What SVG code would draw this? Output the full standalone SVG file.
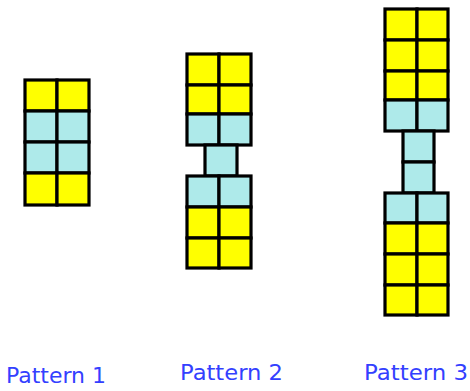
<svg xmlns="http://www.w3.org/2000/svg" width="470" height="391" viewBox="0 0 470 391">
<style>
.y{fill:#ffff00;stroke:#000;stroke-width:3.2}
.c{fill:#aeeaea;stroke:#000;stroke-width:3.2}
.t{font-family:"Comic Sans MS","DejaVu Sans",sans-serif;font-size:22px;fill:#3340ff}
</style>
<rect width="470" height="391" fill="#fff"/>
<g id="pattern1">
<rect class="y" x="25" y="80" width="32" height="31"/><rect class="y" x="57" y="80" width="32" height="31"/>
<rect class="c" x="25" y="111" width="32" height="31"/><rect class="c" x="57" y="111" width="32" height="31"/>
<rect class="c" x="25" y="142" width="32" height="31"/><rect class="c" x="57" y="142" width="32" height="31"/>
<rect class="y" x="25" y="173" width="32" height="32"/><rect class="y" x="57" y="173" width="32" height="32"/>
</g>
<g id="pattern2">
<rect class="y" x="187" y="54" width="32" height="31"/><rect class="y" x="219" y="54" width="32" height="31"/>
<rect class="y" x="187" y="85" width="32" height="29"/><rect class="y" x="219" y="85" width="32" height="29"/>
<rect class="c" x="187" y="114" width="32" height="31"/><rect class="c" x="219" y="114" width="32" height="31"/>
<rect class="c" x="205" y="145" width="32" height="31"/>
<rect class="c" x="187" y="176" width="32" height="31"/><rect class="c" x="219" y="176" width="32" height="31"/>
<rect class="y" x="187" y="207" width="32" height="31"/><rect class="y" x="219" y="207" width="32" height="31"/>
<rect class="y" x="187" y="238" width="32" height="30"/><rect class="y" x="219" y="238" width="32" height="30"/>
</g>
<g id="pattern3">
<rect class="y" x="385" y="9" width="32" height="31"/><rect class="y" x="417" y="9" width="31" height="31"/>
<rect class="y" x="385" y="40" width="32" height="31"/><rect class="y" x="417" y="40" width="31" height="31"/>
<rect class="y" x="385" y="71" width="32" height="29"/><rect class="y" x="417" y="71" width="31" height="29"/>
<rect class="c" x="385" y="100" width="32" height="31"/><rect class="c" x="417" y="100" width="31" height="31"/>
<rect class="c" x="403" y="131" width="31" height="31"/>
<rect class="c" x="403" y="162" width="31" height="31"/>
<rect class="c" x="385" y="193" width="32" height="30"/><rect class="c" x="417" y="193" width="31" height="30"/>
<rect class="y" x="385" y="223" width="32" height="31"/><rect class="y" x="417" y="223" width="31" height="31"/>
<rect class="y" x="385" y="254" width="32" height="31"/><rect class="y" x="417" y="254" width="31" height="31"/>
<rect class="y" x="385" y="285" width="32" height="30"/><rect class="y" x="417" y="285" width="31" height="30"/>
</g>
<g id="labels">
<text class="t" x="6" y="383" textLength="100" lengthAdjust="spacingAndGlyphs">Pattern 1</text>
<text class="t" x="180" y="380" textLength="103" lengthAdjust="spacingAndGlyphs">Pattern 2</text>
<text class="t" x="364" y="380" textLength="104" lengthAdjust="spacingAndGlyphs">Pattern 3</text>
</g>
</svg>
